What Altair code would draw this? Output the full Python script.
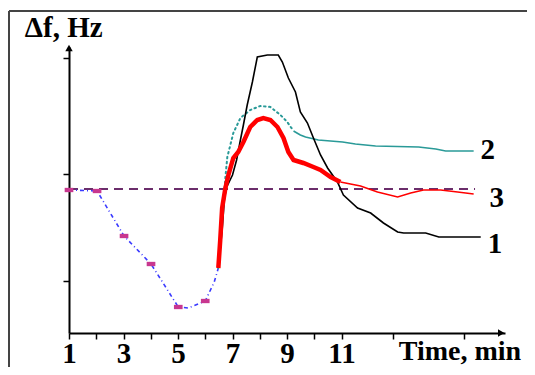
import altair as alt
import pandas as pd

# ---- data (time in min, delta f in arbitrary Hz units; 0 = baseline) ----
dip_t = [1.0, 2.03, 3.02, 4.01, 5.01, 5.38, 6.0, 6.33, 6.48]
dip_f = [-1, -2, -47, -75, -118, -119, -112, -93, -79]
marker_t = [1.0, 2.03, 3.02, 4.01, 5.01, 6.0]
marker_f = [-1, -2, -47, -75, -118, -112]

c1_t = [6.48, 6.62, 6.70, 6.77, 7.0, 7.15, 7.29, 7.40, 7.54, 7.73, 7.91, 8.28, 8.68, 8.83,
        9.05, 9.31, 9.49, 9.75, 9.97, 10.23, 10.49, 10.85, 11.07, 11.59, 12.07, 12.54,
        13.06, 13.28, 14.09, 14.57, 16.11]
c1_f = [-79, -41, -11, 1, 14, 29, 49, 64, 84, 107, 132, 134, 134, 127,
        111, 97, 77, 66, 51, 34, 21, 7, -6, -19, -24, -34,
        -43, -44, -44, -48, -48]

c2_dot_t = [6.48, 6.59, 6.74, 6.81, 7.03, 7.29, 7.65, 8.02, 8.39, 8.76, 9.01, 9.24]
c2_dot_f = [-79, -41, 12, 32, 56, 71, 79, 83, 82, 74, 67, 58]
c2_sol_t = [9.24, 9.49, 9.68, 10.15, 11.04, 11.51, 12.25, 13.83, 14.46, 14.82, 15.85]
c2_sol_f = [58, 54, 52, 49, 47, 45, 43, 42, 40, 38, 38]

c3_thick_t = [6.48, 6.55, 6.62, 6.74, 6.85, 7.03, 7.21, 7.40, 7.65, 7.91, 8.13, 8.39, 8.65,
              8.87, 9.05, 9.24, 9.60, 9.97, 10.23, 10.60, 10.96]
c3_thick_f = [-79, -51, -19, 1, 14, 31, 37, 47, 62, 69, 71, 69, 62,
              51, 37, 29, 26, 22, 19, 12, 7]
c3_thin_t = [10.96, 11.33, 11.70, 12.32, 13.06, 13.54, 14.01, 14.64, 15.26, 15.85]
c3_thin_f = [7, 5, 3, -3, -8, -4, -1, -1, -3, -5]

curve_labels = ["1", "2", "3"]
label_t = [16.63, 16.37, 16.70]
label_f = [-55, 39, -9]

baseline_t = [1.0, 15.9]
x_ticks = [1, 2, 3, 4, 5, 6, 7, 8, 9, 10, 11, 12.9, 15.5]
x_labels = [1, 3, 5, 7, 9, 11]
y_ticks = [131, 15, -92]

X_DOM = [1, 17]
Y_DOM = [-144, 142]
SERIF = "Liberation Serif"

xs = alt.Scale(domain=X_DOM, nice=False, zero=False)
ys = alt.Scale(domain=Y_DOM, nice=False, zero=False)

x_axis = alt.Axis(
    values=x_ticks, title=None, grid=False,
    labelExpr="indexof([1,3,5,7,9,11], datum.value) >= 0 ? datum.label : ''",
    labelFont=SERIF, labelFontWeight="bold", labelFontSize=29, labelColor="black",
    labelPadding=0, labelFlush=False, labelOverlap=False,
    domainColor="black", domainWidth=2, tickColor="black", tickWidth=1.5, tickSize=6,
)
y_axis = alt.Axis(
    values=y_ticks, title=None, grid=False, labels=False,
    domainColor="black", domainWidth=2, tickColor="black", tickWidth=1.5, tickSize=6,
)


def line_df(t, f):
    return pd.DataFrame({"t": t, "f": f, "o": list(range(len(t)))})


def enc(ch):
    return ch.encode(
        x=alt.X("t:Q", scale=xs, axis=x_axis),
        y=alt.Y("f:Q", scale=ys, axis=y_axis),
    )


# frame (decoration)
frame_top = alt.Chart(pd.DataFrame({"a": [0]})).mark_rule(color="#444444", strokeWidth=2).encode(
    x=alt.value(-60), x2=alt.value(490), y=alt.value(-36))
frame_left = alt.Chart(pd.DataFrame({"a": [0]})).mark_rule(color="#444444", strokeWidth=2).encode(
    x=alt.value(-60), y=alt.value(-36), y2=alt.value(345))

base_df = pd.DataFrame({"t": [baseline_t[0]], "t2": [baseline_t[1]], "f": [0]})
baseline = alt.Chart(base_df).mark_rule(color="#6b2d6b", strokeWidth=2, strokeDash=[9, 6]).encode(
    x=alt.X("t:Q", scale=xs, axis=x_axis), x2="t2:Q",
    y=alt.Y("f:Q", scale=ys, axis=y_axis))

dip = enc(alt.Chart(line_df(dip_t, dip_f)).mark_line(
    color="#3a3aff", strokeWidth=1.6, strokeDash=[4, 3, 1, 3])).encode(order="o:Q")
markers = enc(alt.Chart(line_df(marker_t, marker_f)).mark_point(
    shape="M-1,-0.5L1,-0.5L1,0.5L-1,0.5Z", filled=True, size=75, color="#c8378f", opacity=1))

c1 = enc(alt.Chart(line_df(c1_t, c1_f)).mark_line(color="black", strokeWidth=1.6)).encode(order="o:Q")
c2a = enc(alt.Chart(line_df(c2_dot_t, c2_dot_f)).mark_line(
    color="#2a9a98", strokeWidth=2, strokeDash=[1.5, 3.5], strokeCap="round")).encode(order="o:Q")
c2b = enc(alt.Chart(line_df(c2_sol_t, c2_sol_f)).mark_line(
    color="#2a9a98", strokeWidth=1.6)).encode(order="o:Q")
c3a = enc(alt.Chart(line_df(c3_thick_t, c3_thick_f)).mark_line(
    color="#ff0000", strokeWidth=4.5)).encode(order="o:Q")
c3b = enc(alt.Chart(line_df(c3_thin_t, c3_thin_f)).mark_line(
    color="#ff0000", strokeWidth=1.6)).encode(order="o:Q")

labels = enc(alt.Chart(pd.DataFrame({"t": label_t, "f": label_f, "s": curve_labels})).mark_text(
    font=SERIF, fontWeight="bold", fontSize=29, color="black", align="center", baseline="middle")
).encode(text="s:N")

title_txt = enc(alt.Chart(pd.DataFrame({"t": [-0.62], "f": [152], "s": ["Δf, Hz"]})).mark_text(
    font=SERIF, fontWeight="bold", fontSize=29, color="black", align="left", baseline="alphabetic")
).encode(text="s:N")
xtitle_txt = enc(alt.Chart(pd.DataFrame({"t": [13.1], "f": [-171], "s": ["Time, min"]})).mark_text(
    font=SERIF, fontWeight="bold", fontSize=28, color="black", align="left", baseline="alphabetic")
).encode(text="s:N")

arrow_up = enc(alt.Chart(pd.DataFrame({"t": [1.0], "f": [141]})).mark_point(
    shape="triangle-up", filled=True, size=55, color="black", opacity=1))
arrow_right = enc(alt.Chart(pd.DataFrame({"t": [16.86], "f": [-144]})).mark_point(
    shape="triangle-right", filled=True, size=55, color="black", opacity=1))

chart = alt.layer(
    baseline, frame_top, frame_left, dip, c2a, c2b, c1, c3a, c3b, markers,
    labels, title_txt, xtitle_txt, arrow_up, arrow_right,
).properties(
    width=436, height=286,
    autosize=alt.AutoSizeParams(type="none"),
    padding={"left": 61, "top": 39, "right": 22, "bottom": 34},
    background="white",
).configure_view(stroke=None)

chart.save("out.html", embed_options={"renderer": "svg", "actions": False})
